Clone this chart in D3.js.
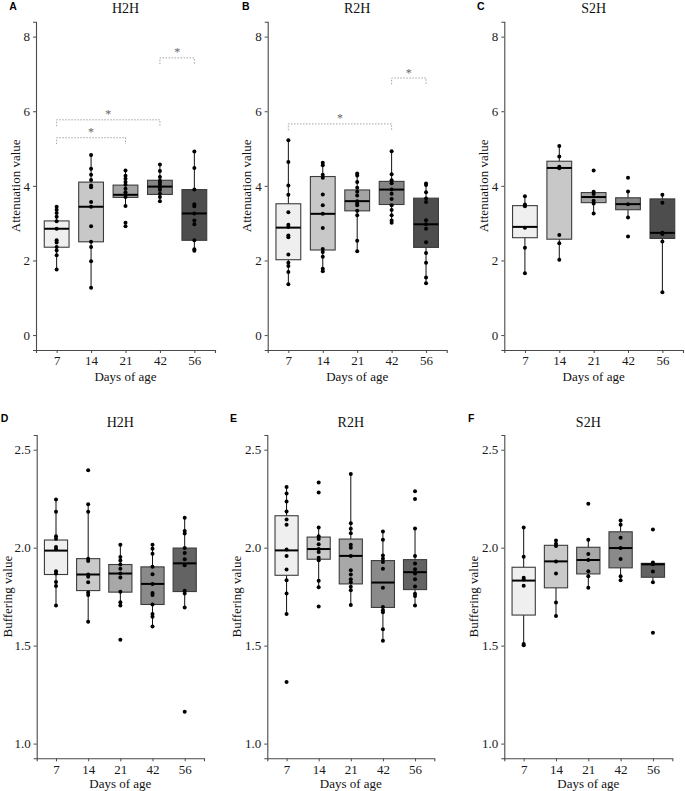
<!DOCTYPE html>
<html><head><meta charset="utf-8">
<script src="https://cdn.jsdelivr.net/npm/d3@7"></script>
<style>body{margin:0;background:#fff}svg{display:block}</style>
</head><body><svg id="c" width="685" height="791"></svg>
<script>
const days = ["7","14","21","42","56"];
const titles = ["H2H","R2H","S2H","H2H","R2H","S2H"];
const letters = ["A","B","C","D","E","F"];
const yLabels = ["Attenuation value","Buffering value"];
const xLabel = "Days of age";
const ticksAtt = [0,2,4,6,8];
const ticksBuf = [1.0,1.5,2.0,2.5];
const fillTop = ["#efefef","#c8c8c8","#a4a4a4","#858585","#4d4d4d"];
const fillBot = ["#efefef","#c9c9c9","#a8a8a8","#8a8a8a","#636363"];

// box stats: [lower whisker, q1, median, q3, upper whisker]
const attH2H_box = [[1.76,2.355,2.85,3.06,3.44],[1.27,2.50,3.44,4.10,4.83],[3.46,3.69,3.76,4.02,4.41],[3.59,3.77,3.98,4.15,4.57],[2.26,2.54,3.26,3.90,4.92]];
const attH2H_pts = [[3.44,3.36,3.27,3.17,3.05,2.85,2.54,2.48,2.36,2.27,2.14,1.76],[4.83,4.46,4.30,4.16,4.01,3.96,3.57,3.44,2.92,2.50,2.36,1.98,1.27],[4.41,4.27,4.19,4.10,4.03,3.92,3.83,3.76,3.70,3.46,3.01,2.92],[4.57,4.40,4.24,4.14,4.08,4.02,3.95,3.89,3.79,3.70,3.59],[4.92,4.48,3.90,3.51,3.45,3.26,3.07,2.97,2.54,2.30,2.26]];
const attR2H_box = [[1.36,2.02,2.88,3.52,5.22],[1.71,2.28,3.25,4.25,4.62],[2.25,3.33,3.59,3.89,4.33],[3.01,3.50,3.90,4.12,4.93],[1.39,2.35,2.97,3.67,4.06]];
const attR2H_pts = [[5.22,4.64,4.01,3.76,3.29,2.96,2.90,2.67,2.62,2.16,1.94,1.85,1.69,1.36],[4.62,4.55,4.30,4.22,3.77,3.48,3.25,2.87,2.31,2.23,2.10,1.78,1.71],[4.33,4.28,4.10,3.95,3.84,3.74,3.59,3.52,3.48,3.33,3.21,2.53,2.25],[4.93,4.31,4.15,4.07,3.90,3.79,3.65,3.48,3.35,3.21,3.07,3.01],[4.06,4.02,3.83,3.66,3.57,3.08,2.97,2.85,2.49,2.20,1.94,1.54,1.39]];
const attS2H_box = [[1.66,2.61,2.90,3.47,3.72],[2.02,2.57,4.48,4.66,5.07],[3.26,3.55,3.70,3.82,3.84],[3.15,3.36,3.51,3.68,3.85],[1.15,2.59,2.74,3.65,3.76]];
const attS2H_pts = [[3.72,3.50,3.45,2.88,2.34,1.66],[5.07,4.79,4.51,4.47,2.68,2.46,2.02],[4.41,3.84,3.78,3.60,3.53,3.26],[4.22,3.85,3.51,3.15,2.64],[3.76,3.55,2.74,2.71,2.51,1.15]];
const bufH2H_box = [[1.705,1.863,1.985,2.039,2.246],[1.622,1.781,1.863,1.944,2.222],[1.705,1.773,1.868,1.914,2.015],[1.598,1.710,1.815,1.902,2.015],[1.695,1.776,1.920,1.998,2.153]];
const bufH2H_pts = [[2.246,2.183,2.058,2.046,2.004,1.992,1.880,1.868,1.825,1.804,1.705],[2.395,2.222,2.183,1.944,1.932,1.863,1.851,1.824,1.771,1.759,1.622],[2.015,1.952,1.935,1.914,1.893,1.868,1.848,1.775,1.721,1.705,1.530],[2.015,1.995,1.969,1.902,1.864,1.815,1.769,1.759,1.710,1.661,1.647,1.598],[2.153,2.085,2.072,1.998,1.973,1.941,1.910,1.780,1.766,1.695,1.163]];
const bufR2H_box = [[1.661,1.859,1.986,2.163,2.310],[1.798,1.941,1.993,2.054,2.103],[1.707,1.815,1.958,2.044,2.376],[1.525,1.695,1.822,1.934,2.083],[1.705,1.786,1.875,1.939,2.098]];
const bufR2H_pts = [[2.310,2.276,2.235,2.184,2.144,2.117,1.990,1.958,1.888,1.834,1.766,1.661,1.315],[2.332,2.281,2.103,2.058,2.044,2.017,1.993,1.978,1.949,1.936,1.831,1.798,1.700],[2.376,2.125,2.096,2.074,2.015,2.000,1.958,1.885,1.863,1.839,1.824,1.800,1.783,1.707],[2.083,2.041,1.960,1.943,1.927,1.892,1.795,1.697,1.681,1.671,1.583,1.525],[2.288,2.249,2.098,1.958,1.919,1.890,1.868,1.839,1.802,1.765,1.753,1.705]];
const bufS2H_box = [[1.502,1.656,1.832,1.900,2.103],[1.651,1.795,1.930,2.012,2.037],[1.795,1.866,1.937,2.002,2.041],[1.834,1.897,1.998,2.081,2.139],[1.824,1.849,1.915,1.920,1.924]];
const bufS2H_pts = [[2.103,1.954,1.846,1.837,1.805,1.508,1.502],[2.037,2.020,2.008,1.930,1.868,1.720,1.651],[2.224,2.041,1.968,1.937,1.880,1.854,1.795],[2.139,2.117,2.051,1.998,1.942,1.854,1.834],[2.093,1.924,1.915,1.878,1.824,1.566]];
// significance brackets: [from, to, y value]
const sigA = [["7","21",5.29],["7","42",5.77],["42","56",7.43]];
const sigB = [["7","42",5.66],["42","56",6.89]];
const sigNone = [];

const svg = d3.select("#c");
const SERIF = "'Liberation Serif','Times New Roman',serif";
const SANS = "'Liberation Sans',Arial,sans-serif";

// layout (positions only)
const layout = [
  {x0:36, x1:215, yT:21.7, yB:350, lx:9.3, ly:10.3, ty:12.7, yl:21},
  {x0:267.7, x1:446.7, yT:21.7, yB:350, lx:242, ly:10.3, ty:12.7, yl:21},
  {x0:504.3, x1:683, yT:21.7, yB:350, lx:477, ly:10.3, ty:12.7, yl:21},
  {x0:36.7, x1:204, yT:435, yB:758.3, lx:0.7, ly:422, ty:426.5, yl:29},
  {x0:267.3, x1:434.3, yT:435, yB:758.3, lx:230, ly:422, ty:426.5, yl:30.5},
  {x0:504.3, x1:672.3, yT:435, yB:758.3, lx:468, ly:422, ty:426.5, yl:30.5}
];
const boxes = [attH2H_box, attR2H_box, attS2H_box, bufH2H_box, bufR2H_box, bufS2H_box];
const points = [attH2H_pts, attR2H_pts, attS2H_pts, bufH2H_pts, bufR2H_pts, bufS2H_pts];
const sigs = [sigA, sigB, sigNone, sigNone, sigNone, sigNone];

layout.forEach((L, i) => {
  const top = i < 3;
  const g = svg.append("g");
  const x = d3.scalePoint().domain(days).range([L.x0, L.x1]).padding(0.6);
  const dom = top ? [0, 8] : [1.0, 2.5];
  const pad = (dom[1]-dom[0])*0.05;
  const y = d3.scaleLinear().domain([dom[0]-pad, dom[1]+pad]).range([L.yB, L.yT]);
  const step = x.step();
  const bw = step*0.72;
  const fills = top ? fillTop : fillBot;

  const ya = g.append("g").attr("transform", `translate(${L.x0},0)`)
    .call(d3.axisLeft(y).tickValues(top ? ticksAtt : ticksBuf).tickSizeOuter(0).tickSize(3).tickPadding(3)
      .tickFormat(top ? d3.format("d") : d3.format(".1f")));
  const xa = g.append("g").attr("transform", `translate(0,${L.yB})`)
    .call(d3.axisBottom(x).tickSizeOuter(0).tickSize(3).tickPadding(3));
  [ya, xa].forEach(a => {
    a.select(".domain").attr("stroke", "#4a4a4a").attr("stroke-width", 1.1);
    a.selectAll(".tick line").attr("stroke", "#4a4a4a");
    a.selectAll(".tick text").attr("fill", "#1a1a1a").style("font-family", SERIF).style("font-size", "13px");
  });

  boxes[i].forEach((b, j) => {
    const cx = x(days[j]);
    g.append("line").attr("x1", cx).attr("x2", cx).attr("y1", y(b[0])).attr("y2", y(b[4]))
      .attr("stroke", "#111").attr("stroke-width", 1);
    g.append("rect").attr("x", cx-bw/2).attr("width", bw).attr("y", y(b[3])).attr("height", y(b[1])-y(b[3]))
      .attr("fill", fills[j]).attr("stroke", "#3c3c3c").attr("stroke-width", 1.1);
    g.append("line").attr("x1", cx-bw/2).attr("x2", cx+bw/2).attr("y1", y(b[2])).attr("y2", y(b[2]))
      .attr("stroke", "#000").attr("stroke-width", 2);
    points[i][j].forEach(v => {
      g.append("circle").attr("cx", cx).attr("cy", y(v)).attr("r", 2).attr("fill", "#000");
    });
  });

  sigs[i].forEach(s => {
    const xa1 = x(s[0]), xa2 = x(s[1]), yv = y(s[2]), yd = y(s[2]-0.17);
    g.append("path").attr("d", `M${xa1},${yd}V${yv}H${xa2}V${yd}`)
      .attr("fill", "none").attr("stroke", "#9a9a9a").attr("stroke-width", 0.9).attr("stroke-dasharray", "1.5,1.5");
    g.append("text").attr("x", (xa1+xa2)/2).attr("y", yv-1.5).attr("text-anchor", "middle")
      .style("font-family", SERIF).style("font-size", "12px").attr("fill", "#666").text("*");
  });

  g.append("text").attr("x", (L.x0+L.x1)/2).attr("y", L.ty).attr("text-anchor", "middle")
    .style("font-family", SERIF).style("font-size", "14px").attr("fill", "#111").text(titles[i]);
  g.append("text").attr("x", L.lx).attr("y", L.ly)
    .style("font-family", SANS).style("font-size", "10.5px").style("font-weight", "bold").attr("fill", "#000").text(letters[i]);
  g.append("text").attr("transform", `translate(${L.x0-L.yl},${(L.yT+L.yB)/2}) rotate(-90)`)
    .attr("text-anchor", "middle").attr("dy", "0.35em")
    .style("font-family", SERIF).style("font-size", "13px").attr("fill", "#111").text(yLabels[top ? 0 : 1]);
  g.append("text").attr("x", (L.x0+L.x1)/2).attr("y", L.yB + (top ? 31 : 29.5)).attr("text-anchor", "middle")
    .style("font-family", SERIF).style("font-size", "13px").attr("fill", "#111").text(xLabel);
});
</script></body></html>
